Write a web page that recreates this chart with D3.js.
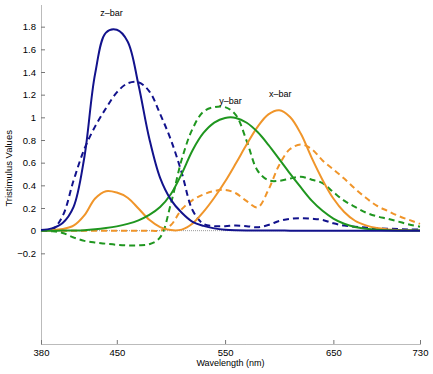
<!DOCTYPE html>
<html lang="en">
<head>
    <meta charset="UTF-8">
    <title>Tristimulus Values</title>
    <script src="https://d3js.org/d3.v7.min.js"></script>
    <style>
        body { margin: 0; background: #fff; }
        text { font-family: "Liberation Sans", Arial, sans-serif; }
    </style>
</head>
<body>
<div id="chart"></div>
<script>
    // Wavelengths (nm), 10 nm steps
    var wavelengths = [380, 390, 400, 410, 420, 430, 440, 450, 460, 470, 480, 490, 500, 510, 520, 530, 540, 550,
                       560, 570, 580, 590, 600, 610, 620, 630, 640, 650, 660, 670, 680, 690, 700, 710, 720, 730];

    // Solid curves (x-bar, y-bar, z-bar)
    var xBar = [0.0014, 0.0042, 0.0143, 0.0435, 0.1344, 0.2839, 0.3483, 0.3362, 0.2908, 0.1954, 0.0956, 0.0320,
                0.0049, 0.0093, 0.0633, 0.1655, 0.2904, 0.4334, 0.5945, 0.7621, 0.9163, 1.0263, 1.0622, 1.0026,
                0.8544, 0.6424, 0.4479, 0.2835, 0.1649, 0.0874, 0.0468, 0.0227, 0.0114, 0.0058, 0.0029, 0.0014];
    var yBar = [0.0000, 0.0001, 0.0004, 0.0012, 0.0040, 0.0116, 0.0230, 0.0380, 0.0600, 0.0910, 0.1390, 0.2080,
                0.3230, 0.5030, 0.7100, 0.8620, 0.9540, 0.9950, 0.9950, 0.9520, 0.8700, 0.7570, 0.6310, 0.5030,
                0.3810, 0.2650, 0.1750, 0.1070, 0.0610, 0.0320, 0.0170, 0.0082, 0.0041, 0.0021, 0.0010, 0.0005];
    var zBar = [0.0065, 0.0201, 0.0679, 0.2074, 0.6456, 1.3856, 1.7471, 1.7721, 1.6692, 1.2876, 0.8130, 0.4652,
                0.2720, 0.1582, 0.0782, 0.0422, 0.0203, 0.0087, 0.0039, 0.0021, 0.0017, 0.0011, 0.0008, 0.0003,
                0.0002, 0, 0, 0, 0, 0, 0, 0, 0, 0, 0, 0];

    // Dashed curves
    var orangeDash = [0, 0, 0, 0, 0, 0, 0, 0, 0, 0, 0, 0, 0.05, 0.19, 0.27, 0.32, 0.35, 0.36,
                      0.33, 0.26, 0.205, 0.36, 0.58, 0.72, 0.76, 0.72, 0.62, 0.54, 0.46, 0.37, 0.29, 0.22,
                      0.175, 0.13, 0.095, 0.06];
    var greenDash = [0, -0.005, -0.02, -0.06, -0.09, -0.105, -0.115, -0.125, -0.13, -0.13, -0.12, -0.06,
                     0.24, 0.63, 0.90, 1.05, 1.09, 1.09, 1.02, 0.79, 0.53, 0.445, 0.44, 0.46, 0.475, 0.45,
                     0.42, 0.34, 0.265, 0.21, 0.16, 0.127, 0.105, 0.08, 0.055, 0.035];
    var blueDash = [0, 0.005, 0.13, 0.44, 0.72, 0.92, 1.08, 1.22, 1.30, 1.31, 1.23, 1.03, 0.80, 0.51, 0.18,
                    0.06, 0.04, 0.04, 0.045, 0.04, 0.03, 0.05, 0.085, 0.105, 0.11, 0.105, 0.095, 0.065, 0.045,
                    0.035, 0.028, 0.022, 0.018, 0.014, 0.011, 0.01];

    var xTicks = [380, 450, 550, 650, 730];
    var yTicks = [-0.2, 0, 0.2, 0.4, 0.6, 0.8, 1, 1.2, 1.4, 1.6, 1.8];

    var blue = "#12128c", orange = "#f0952a", green = "#1f961f";

    var width = 433, height = 374;
    var margin = {top: 4, right: 13, bottom: 30, left: 41};

    var svg = d3.select("#chart").append("svg")
        .attr("width", width)
        .attr("height", height);

    var x = d3.scaleLinear().domain([380, 730]).range([margin.left, width - margin.right]);
    var y = d3.scaleLinear().domain([-1, 2]).range([height - margin.bottom, margin.top]);

    // zero line
    svg.append("line")
       .attr("x1", x(380)).attr("x2", x(730))
       .attr("y1", y(0)).attr("y2", y(0))
       .attr("stroke", "#999")
       .attr("stroke-dasharray", "1,1");

    var xAxis = d3.axisBottom(x).tickValues(xTicks).tickSizeInner(-4).tickSizeOuter(0).tickPadding(5);
    var yAxis = d3.axisLeft(y).tickValues(yTicks).tickSizeInner(-4).tickSizeOuter(0).tickPadding(5)
                  .tickFormat(d3.format("~g"));

    var gx = svg.append("g")
       .attr("transform", "translate(0," + y(-1) + ")")
       .call(xAxis);
    var gy = svg.append("g")
       .attr("transform", "translate(" + x(380) + ",0)")
       .call(yAxis);

    [gx, gy].forEach(function(g) {
        g.select(".domain").attr("stroke", "#777").attr("stroke-dasharray", "1,1");
        g.selectAll(".tick line").attr("stroke", "#777");
        g.selectAll(".tick text").attr("fill", "#000").style("font-size", "9.5px")
         .style("font-family", "'Liberation Sans', Arial, sans-serif");
    });

    // axis titles
    svg.append("text")
       .attr("x", (x(380) + x(730)) / 2)
       .attr("y", 366)
       .attr("text-anchor", "middle")
       .style("font-size", "9px")
       .text("Wavelength (nm)");

    svg.append("text")
       .attr("transform", "translate(12," + (y(0.55)) + ") rotate(-90)")
       .attr("text-anchor", "middle")
       .style("font-size", "9.5px")
       .text("Tristimulus Values");

    var line = d3.line()
        .x(function(d) { return x(d[0]); })
        .y(function(d) { return y(d[1]); })
        .curve(d3.curveCatmullRom);

    var series = [
        {values: orangeDash, color: orange, dash: "6,4"},
        {values: greenDash, color: green, dash: "6,4"},
        {values: blueDash, color: blue, dash: "6,4"},
        {values: xBar, color: orange, dash: null},
        {values: yBar, color: green, dash: null},
        {values: zBar, color: blue, dash: null}
    ];

    series.forEach(function(s) {
        svg.append("path")
           .datum(wavelengths.map(function(w, i) { return [w, s.values[i]]; }))
           .attr("fill", "none")
           .attr("stroke", s.color)
           .attr("stroke-width", 2)
           .attr("stroke-dasharray", s.dash)
           .attr("d", line);
    });

    // curve labels
    var labels = [
        {text: "z\u2013bar", w: 445, v: 1.89},
        {text: "y\u2013bar", w: 555, v: 1.12},
        {text: "x\u2013bar", w: 601, v: 1.18}
    ];
    labels.forEach(function(l) {
        svg.append("text")
           .attr("x", x(l.w))
           .attr("y", y(l.v))
           .attr("text-anchor", "middle")
           .style("font-size", "9px")
           .text(l.text);
    });
</script>
</body>
</html>
